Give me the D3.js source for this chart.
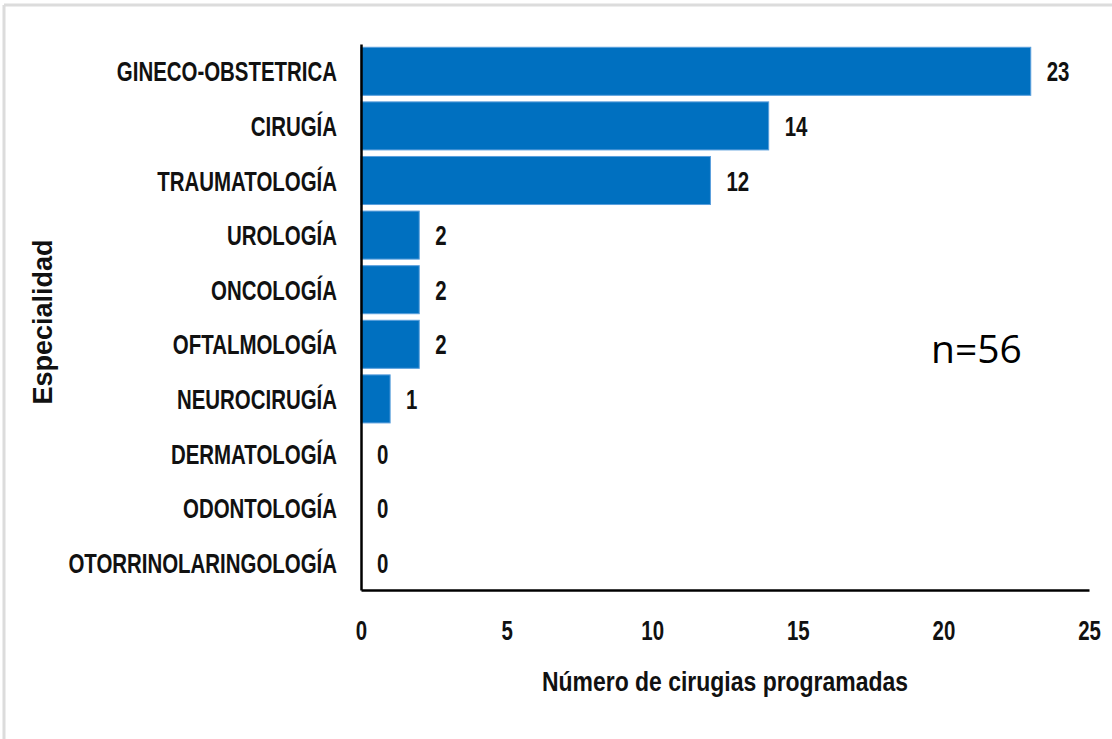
<!DOCTYPE html>
<html>
<head>
<meta charset="utf-8">
<script src="https://cdn.jsdelivr.net/npm/d3@7"></script>
<style>
  body { margin: 0; background: #fff; }
</style>
</head>
<body>
<div id="chart"></div>
<script>
// data
let especialidades = ["GINECO-OBSTETRICA", "CIRUGÍA", "TRAUMATOLOGÍA", "UROLOGÍA", "ONCOLOGÍA",
                      "OFTALMOLOGÍA", "NEUROCIRUGÍA", "DERMATOLOGÍA", "ODONTOLOGÍA", "OTORRINOLARINGOLOGÍA"];
let cirugias = [23, 14, 12, 2, 2, 2, 1, 0, 0, 0];
let xTicks = [0, 5, 10, 15, 20, 25];
let xTitle = "Número de cirugias programadas";
let yTitle = "Especialidad";
let nLabel = "n=56";

let w = 1112;
let h = 739;
let padL = 361, padR = 1089, padT = 44, padB = 590;
let sx = 0.73; // squeeze Liberation Sans to look like the narrow Calibri text
let labelFont = "'Liberation Sans', Arial, sans-serif";

let viz = d3.select("#chart")
            .append("svg")
            .attr("width", w)
            .attr("height", h)
            .style("display", "block")
;

// light frame at top and left
viz.append("line").attr("x1", 4).attr("x2", w).attr("y1", 5).attr("y2", 5)
   .attr("stroke", "#dcdcdc").attr("stroke-width", 3);
viz.append("line").attr("x1", 4).attr("x2", 4).attr("y1", 5).attr("y2", h)
   .attr("stroke", "#dcdcdc").attr("stroke-width", 3);

let xScale = d3.scaleLinear().domain([0, 25]).range([padL, padR]);
let yScale = d3.scaleBand().domain(especialidades).range([padT, padB])
               .paddingInner(0.12).paddingOuter(0.06);

let data = especialidades.map((d, i) => ({ name: d, value: cirugias[i] }));

// bars
viz.selectAll(".bar").data(data).enter()
   .append("rect")
   .attr("class", "bar")
   .attr("x", xScale(0))
   .attr("y", d => yScale(d.name))
   .attr("width", d => xScale(d.value) - xScale(0))
   .attr("height", yScale.bandwidth())
   .attr("fill", "#0070C0")
   .attr("stroke", d => d.value > 0 ? "#5a9fdc" : "none")
   .attr("stroke-width", 1)
;

// value labels
viz.selectAll(".valueLabel").data(data).enter()
   .append("text")
   .attr("class", "valueLabel")
   .attr("transform", d => "translate(" + (xScale(d.value) + 16) + "," + (yScale(d.name) + yScale.bandwidth()/2 + 10) + ") scale(" + sx + ",1)")
   .text(d => d.value)
   .attr("font-family", labelFont)
   .attr("font-weight", "bold")
   .attr("font-size", "28px")
   .attr("fill", "#111")
;

// y axis
let yAxis = d3.axisLeft(yScale).tickSize(0);
let yAxisGroup = viz.append("g")
                    .attr("transform", "translate(" + padL + ",0)")
                    .call(yAxis);
yAxisGroup.select(".domain").attr("stroke", "#000").attr("stroke-width", 2.5);
yAxisGroup.selectAll(".tick text")
          .attr("x", null).attr("y", null).attr("dy", null)
          .attr("transform", "translate(-24,10) scale(" + sx + ",1)")
          .attr("text-anchor", "end")
          .attr("font-family", labelFont)
          .attr("font-weight", "bold")
          .attr("font-size", "28px")
          .attr("fill", "#111")
;

// x axis
let xAxis = d3.axisBottom(xScale).tickValues(xTicks).tickSize(0).tickFormat(d3.format("d"));
let xAxisGroup = viz.append("g")
                    .attr("transform", "translate(0," + padB + ")")
                    .call(xAxis);
xAxisGroup.select(".domain").attr("stroke", "#000").attr("stroke-width", 2.5);
xAxisGroup.selectAll(".tick text")
          .attr("y", null).attr("dy", null)
          .attr("transform", "translate(0,50) scale(" + sx + ",1)")
          .attr("text-anchor", "middle")
          .attr("font-family", labelFont)
          .attr("font-weight", "bold")
          .attr("font-size", "28px")
          .attr("fill", "#111")
;

// axis titles
viz.append("text")
   .attr("transform", "translate(" + ((padL + padR)/2) + ",691) scale(0.82,1)")
   .text(xTitle)
   .attr("text-anchor", "middle")
   .attr("font-family", labelFont)
   .attr("font-weight", "bold")
   .attr("font-size", "28px")
   .attr("fill", "#111")
;
viz.append("text")
   .attr("transform", "translate(52,322) rotate(-90)")
   .text(yTitle)
   .attr("text-anchor", "middle")
   .attr("font-family", labelFont)
   .attr("font-weight", "bold")
   .attr("font-size", "27px")
   .attr("fill", "#111")
;

// sample size
viz.append("text")
   .attr("x", 931)
   .attr("y", 363)
   .text(nLabel)
   .attr("font-family", "'Open Sans', sans-serif")
   .attr("font-size", "39px")
   .attr("fill", "#000")
;
</script>
</body>
</html>
